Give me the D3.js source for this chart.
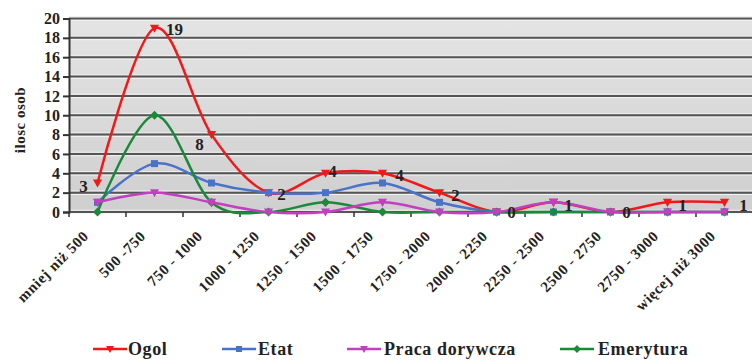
<!DOCTYPE html>
<html><head><meta charset="utf-8">
<script src="https://cdn.jsdelivr.net/npm/d3@7"></script>
<style>body{margin:0;background:#fff;} svg{display:block;} svg text{font-family:"Liberation Serif","Times New Roman",Tinos,"DejaVu Serif","Noto Serif",serif !important;font-weight:bold;fill:#222;}</style>
</head><body>
<svg id="c" width="752" height="363"></svg>
<script>
const categories = ["mniej niż 500","500 -750","750 - 1000","1000 - 1250","1250 - 1500","1500 - 1750","1750 - 2000","2000 - 2250","2250 - 2500","2500 - 2750","2750 - 3000","więcej niż 3000"];
const ogol = [3,19,8,2,4,4,2,0,1,0,1,1];
const etat = [1,5,3,2,2,3,1,0,0,0,0,0];
const praca = [1,2,1,0,0,1,0,0,1,0,0,0];
const emerytura = [0,10,1,0,1,0,0,0,0,0,0,0];
const yTicks = [0,2,4,6,8,10,12,14,16,18,20];
const ogolLabels = ["3","19","8","2","4","4","2","0","1","0","1","1"];

const series = [
  {name:"Ogol", values:ogol, color:"#f01818", marker:"tri"},
  {name:"Etat", values:etat, color:"#4a72c8", marker:"sq"},
  {name:"Praca dorywcza", values:praca, color:"#c040c0", marker:"tri"},
  {name:"Emerytura", values:emerytura, color:"#1a8a3a", marker:"dia"}
];
const drawOrder = [series[0], series[1], series[3], series[2]];

const svg = d3.select("#c");
const W = 752, H = 363, left = 69;
const x = d3.scaleBand().domain(categories).range([left, left + 12*57]);
const y = d3.scaleLinear().domain([0,20]).range([212, 18.5]);

const defs = svg.append("defs");
const g1 = defs.append("linearGradient").attr("id","bg").attr("x1",0).attr("x2",0).attr("y1",0).attr("y2",1);
g1.append("stop").attr("offset","0%").attr("stop-color","#e4e4e4");
g1.append("stop").attr("offset","100%").attr("stop-color","#cfcfcf");

svg.append("rect").attr("x",left).attr("y",y(20)).attr("width",W-left).attr("height",y(0)-y(20)).attr("fill","url(#bg)");

// gridlines
yTicks.forEach(t=>{
  svg.append("line").attr("x1",left).attr("x2",W).attr("y1",y(t)+1.8).attr("y2",y(t)+1.8).attr("stroke","#f4f4f4").attr("stroke-width",1);
  svg.append("line").attr("x1",left).attr("x2",W).attr("y1",y(t)-1.8).attr("y2",y(t)-1.8).attr("stroke","#eeeeee").attr("stroke-width",1);
  svg.append("line").attr("x1",left).attr("x2",W).attr("y1",y(t)).attr("y2",y(t)).attr("stroke","#555").attr("stroke-width",2);
});

// y axis
const ya = svg.append("g").attr("transform",`translate(${left},0)`).call(d3.axisLeft(y).tickValues(yTicks).tickSize(6).tickPadding(3));
ya.attr("font-family",null).attr("font-size",null);
ya.select(".domain").attr("stroke","#333").attr("stroke-width",2);
ya.selectAll(".tick line").attr("stroke","#333").attr("stroke-width",2);
ya.selectAll("text").style("font-size","16px").attr("fill","#222");

// x axis ticks
const xa = svg.append("g").attr("transform",`translate(0,${y(0)})`).call(d3.axisBottom(x).tickSize(0).tickFormat(""));
xa.select(".domain").remove();
categories.forEach((c,i)=>{
  const bx = x(c) + x.bandwidth();
  if(i < categories.length-1) svg.append("line").attr("x1",bx).attr("x2",bx).attr("y1",y(0)).attr("y2",y(0)+5).attr("stroke","#333").attr("stroke-width",1.5);
});
svg.append("line").attr("x1",left).attr("x2",left).attr("y1",y(0)).attr("y2",y(0)+5).attr("stroke","#333").attr("stroke-width",1.5);

categories.forEach(c=>{
  const cx = x(c)+x.bandwidth()/2;
  svg.append("text").attr("transform",`translate(${cx-8},${y(0)+25}) rotate(-45)`)
    .attr("text-anchor","end").style("font-size","15px").style("letter-spacing","0.6px").text(c);
});

// y title
svg.append("text").attr("transform","translate(25,120) rotate(-90)").attr("text-anchor","middle").style("font-size","15px").style("letter-spacing","0.5px").text("ilosc osob");

// lines
const line = d3.line().x((d,i)=>x(categories[i])+x.bandwidth()/2).y(d=>y(d)).curve(d3.curveCardinal.tension(0));
function marker(g, type, color, cx, cy, s){
  if(type==="sq") g.append("rect").attr("x",cx-s).attr("y",cy-s).attr("width",2*s).attr("height",2*s).attr("fill",color);
  else if(type==="dia") g.append("path").attr("d",`M${cx},${cy-s*1.3}L${cx+s*1.3},${cy}L${cx},${cy+s*1.3}L${cx-s*1.3},${cy}Z`).attr("fill",color);
  else g.append("path").attr("d",`M${cx-s*1.3},${cy-s}L${cx+s*1.3},${cy-s}L${cx},${cy+s*1.3}Z`).attr("fill",color);
}
drawOrder.forEach(s=>{
  svg.append("path").datum(s.values).attr("d",line).attr("fill","none").attr("stroke",s.color).attr("stroke-width",2.5);
  const g = svg.append("g");
  s.values.forEach((v,i)=>marker(g, s.marker, s.color, x(categories[i])+x.bandwidth()/2, y(v), 3.5));
});

// data labels for Ogol
const labelOff = [[-14,3],[20,1],[-12,9],[13,1],[7,-2],[17,2],[16,2],[15,0],[15,3],[16,0],[15,3],[19,3]];
ogol.forEach((v,i)=>{
  svg.append("text").attr("x",x(categories[i])+x.bandwidth()/2+labelOff[i][0]).attr("y",y(v)+labelOff[i][1]+6)
    .attr("text-anchor","middle").style("font-size","17px").text(ogolLabels[i]);
});

// legend
const leg = [[93,128],[222,258],[347,384],[560,598]];
series.forEach((s,i)=>{
  const [lx,tx] = leg[i];
  svg.append("line").attr("x1",lx).attr("x2",lx+34).attr("y1",349).attr("y2",349).attr("stroke",s.color).attr("stroke-width",2.5);
  marker(svg, s.marker, s.color, lx+17, 349, 3);
  svg.append("text").attr("x",tx).attr("y",355).style("font-size","18px").style("letter-spacing","0.6px").text(s.name);
});
</script>
</body></html>
